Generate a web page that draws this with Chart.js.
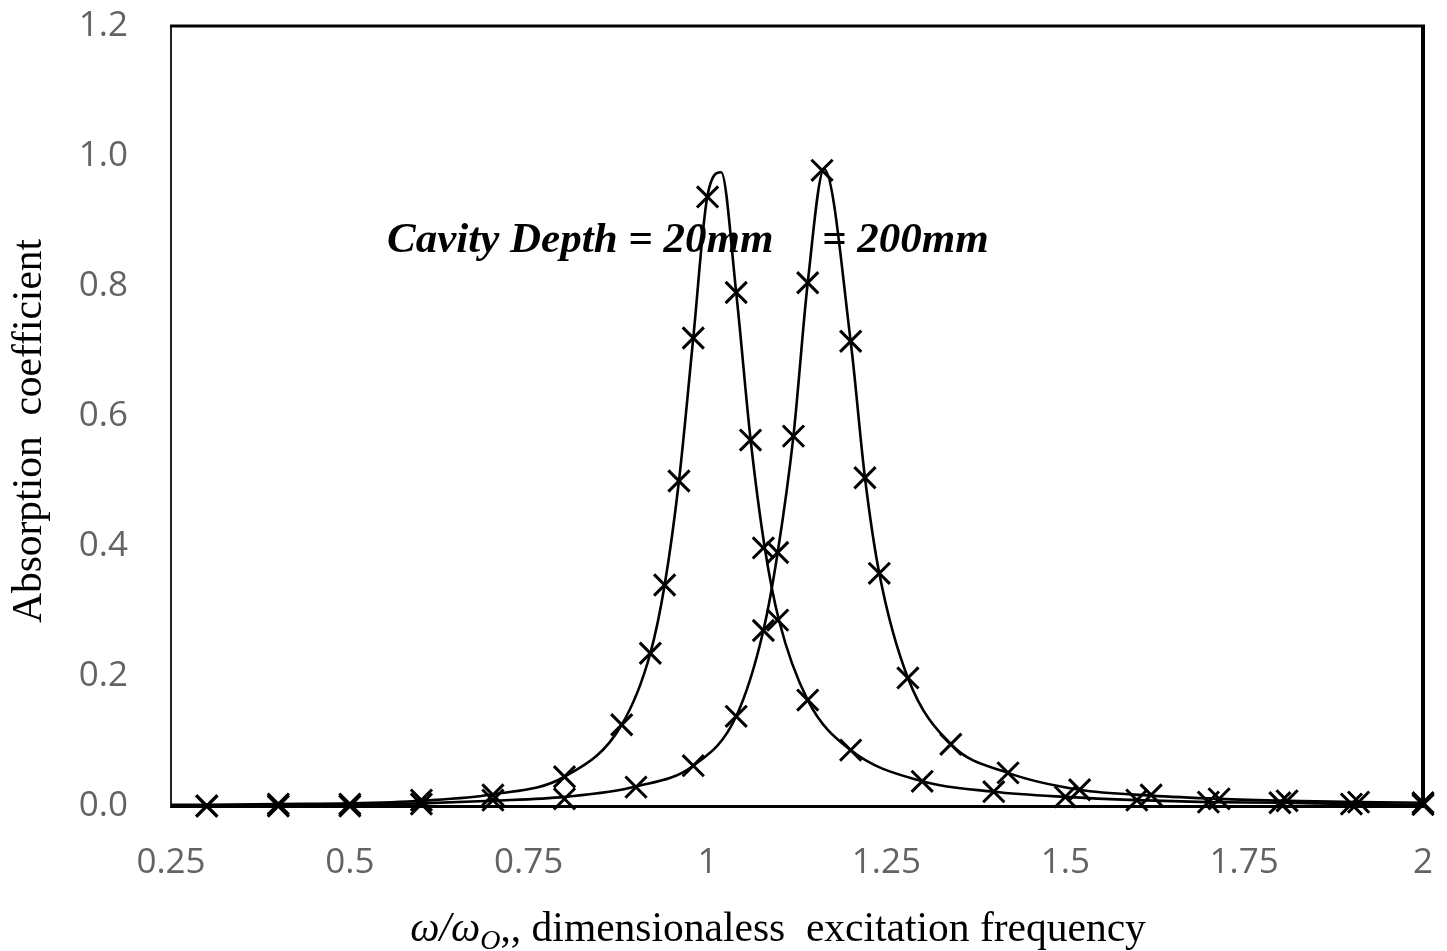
<!DOCTYPE html>
<html><head><meta charset="utf-8">
<script src="https://cdn.jsdelivr.net/npm/chart.js@4"></script>
<style>html,body{margin:0;padding:0;background:#fff}</style>
</head><body>
<canvas id="c" width="1447" height="951"></canvas>
<script>
// ---- data ----
const xTickValues = [0.25, 0.5, 0.75, 1, 1.25, 1.5, 1.75, 2];
const yTickValues = [0, 0.2, 0.4, 0.6, 0.8, 1.0, 1.2];

// Cavity depth 20 mm : smooth curve
const d20CurveX = [0.25, 0.3, 0.4, 0.5, 0.6, 0.7, 0.8, 0.88, 0.92, 0.94, 0.96, 0.98, 1.0, 1.019, 1.04, 1.06, 1.08, 1.10, 1.14, 1.2, 1.3, 1.4, 1.5, 1.6, 1.7, 1.8, 1.9, 2.0];
const d20CurveY = [0.002, 0.002, 0.003, 0.004, 0.008, 0.018, 0.045, 0.125, 0.235, 0.34, 0.50, 0.72, 0.94, 0.975, 0.79, 0.565, 0.397, 0.285, 0.163, 0.086, 0.038, 0.022, 0.014, 0.009, 0.006, 0.005, 0.003, 0.002];
// Cavity depth 20 mm : markers
const d20MarkX = [0.3, 0.4, 0.5, 0.6, 0.7, 0.8, 0.88, 0.92, 0.94, 0.96, 0.98, 1.0, 1.04, 1.06, 1.078, 1.098, 1.14, 1.2, 1.3, 1.4, 1.5, 1.6, 1.7, 1.8, 1.9, 2.0];
const d20MarkY = [0.0, 0.003, 0.003, 0.009, 0.017, 0.045, 0.125, 0.235, 0.34, 0.50, 0.72, 0.937, 0.79, 0.563, 0.397, 0.286, 0.163, 0.086, 0.038, 0.022, 0.014, 0.009, 0.006, 0.005, 0.003, 0.002];

// Cavity depth 200 mm : smooth curve
const d200CurveX = [0.25, 0.3, 0.4, 0.5, 0.6, 0.7, 0.8, 0.9, 0.98, 1.04, 1.078, 1.098, 1.12, 1.14, 1.163, 1.2, 1.22, 1.24, 1.28, 1.34, 1.42, 1.52, 1.62, 1.715, 1.81, 1.91, 2.0];
const d200CurveY = [0.001, 0.001, 0.001, 0.002, 0.004, 0.008, 0.014, 0.03, 0.062, 0.138, 0.27, 0.39, 0.569, 0.805, 0.98, 0.715, 0.505, 0.358, 0.197, 0.095, 0.051, 0.025, 0.016, 0.011, 0.008, 0.006, 0.005];
// Cavity depth 200 mm : markers
const d200MarkX = [0.3, 0.4, 0.5, 0.6, 0.7, 0.8, 0.9, 0.98, 1.04, 1.078, 1.098, 1.12, 1.14, 1.16, 1.2, 1.22, 1.24, 1.28, 1.34, 1.42, 1.52, 1.62, 1.715, 1.81, 1.91, 2.0];
const d200MarkY = [0.0, 0.0, 0.0, 0.003, 0.009, 0.011, 0.029, 0.062, 0.138, 0.27, 0.39, 0.569, 0.805, 0.978, 0.715, 0.505, 0.358, 0.197, 0.095, 0.051, 0.025, 0.017, 0.011, 0.008, 0.006, 0.005];

const annotationTexts = ['Cavity Depth = 20mm', '= 200mm'];
const annotationX = [0.552, 1.16];
const annotationY = [0.852, 0.852];

const xTitleParts = ['\u03c9/\u03c9', 'O', ',, dimensionaless  excitation frequency'];
const yTitleText = 'Absorption  coefficient';

// ---- build ----
const pts = (xs, ys) => xs.map((x, i) => ({x: x, y: ys[i]}));

const lineDs = (xs, ys) => ({
  type: 'line', data: pts(xs, ys), borderColor: '#000', borderWidth: 2.6,
  pointRadius: 0, cubicInterpolationMode: 'monotone', fill: false, clip: false, order: 2
});
const markDs = (xs, ys) => ({
  type: 'scatter', data: pts(xs, ys), showLine: false, pointStyle: 'crossRot',
  pointRadius: 15, borderColor: '#000', backgroundColor: '#000', pointBorderWidth: 3, borderWidth: 3,
  clip: false, order: 1
});

const annotationPlugin = {
  id: 'annot',
  beforeDatasetsDraw(chart) {
    const ctx = chart.ctx, xs = chart.scales.x, ys = chart.scales.y;
    ctx.save();
    ctx.font = 'italic bold 43px "Liberation Serif", "Times New Roman", serif';
    ctx.fillStyle = '#000';
    ctx.textBaseline = 'alphabetic';
    ctx.textAlign = 'left';
    annotationTexts.forEach((t, i) => {
      ctx.fillText(t, xs.getPixelForValue(annotationX[i]), ys.getPixelForValue(annotationY[i]));
    });
    ctx.restore();
  }
};

const framePlugin = {
  id: 'frame',
  afterDraw(chart) {
    const ctx = chart.ctx, a = chart.chartArea;
    ctx.save();
    ctx.strokeStyle = '#000';
    ctx.lineWidth = 3;
    ctx.beginPath(); ctx.moveTo(a.left - 1, a.top); ctx.lineTo(a.right + 2, a.top); ctx.stroke();
    ctx.lineWidth = 4;
    ctx.beginPath(); ctx.moveTo(a.right, a.top); ctx.lineTo(a.right, a.bottom + 1); ctx.stroke();
    // x title with italic omega and subscript
    const f1 = 'italic 41.5px "Liberation Serif", "Times New Roman", serif';
    const f2 = 'italic 28px "Liberation Serif", "Times New Roman", serif';
    const f3 = '41.5px "Liberation Serif", "Times New Roman", serif';
    ctx.fillStyle = '#000';
    ctx.textBaseline = 'alphabetic';
    ctx.textAlign = 'left';
    ctx.font = f1; const w1 = ctx.measureText(xTitleParts[0]).width;
    ctx.font = f2; const w2 = ctx.measureText(xTitleParts[1]).width;
    ctx.font = f3; const w3 = ctx.measureText(xTitleParts[2]).width;
    const cx = (a.left + a.right) / 2 - 19;
    let x = cx - (w1 + w2 + w3) / 2;
    const base = 941;
    ctx.font = f1; ctx.fillText(xTitleParts[0], x, base); x += w1;
    ctx.font = f2; ctx.fillText(xTitleParts[1], x, base + 8); x += w2;
    ctx.font = f3; ctx.fillText(xTitleParts[2], x, base);
    // y title, rotated
    ctx.translate(30, 431);
    ctx.rotate(-Math.PI / 2);
    ctx.textAlign = 'center';
    ctx.textBaseline = 'middle';
    ctx.font = '41.5px "Liberation Serif", "Times New Roman", serif';
    ctx.fillText(yTitleText, 0, 0);
    ctx.restore();
  }
};

const tickFont = {family: '"Open Sans", "Noto Sans", sans-serif', size: 35};

new Chart(document.getElementById('c'), {
  data: {
    datasets: [
      lineDs(d20CurveX, d20CurveY),
      lineDs(d200CurveX, d200CurveY),
      markDs(d20MarkX, d20MarkY),
      markDs(d200MarkX, d200MarkY)
    ]
  },
  options: {
    responsive: false,
    animation: false,
    layout: {padding: {top: 26, right: 24, left: 0, bottom: 0}},
    plugins: {legend: {display: false}, tooltip: {enabled: false}},
    scales: {
      x: {
        type: 'linear', min: 0.25, max: 2,
        afterBuildTicks: s => { s.ticks = xTickValues.map(v => ({value: v})); },
        afterFit: s => { s.height = 145; s.paddingLeft = 0; s.paddingRight = 0; },
        grid: {display: false, drawTicks: false},
        border: {display: true, color: '#000', width: 3},
        ticks: {color: '#636363', font: tickFont, padding: 36, maxRotation: 0,
                callback: v => String(+Number(v).toFixed(2))},
        title: {display: false}
      },
      y: {
        type: 'linear', min: 0, max: 1.2,
        afterBuildTicks: s => { s.ticks = yTickValues.map(v => ({value: v})); },
        afterFit: s => { s.width = 171; s.paddingTop = 0; s.paddingBottom = 0; },
        grid: {display: false, drawTicks: false},
        border: {display: true, color: '#222', width: 2},
        ticks: {color: '#636363', font: tickFont, padding: 43,
                callback: v => Number(v).toFixed(1)},
        title: {display: false}
      }
    }
  },
  plugins: [annotationPlugin, framePlugin]
});
</script>
</body></html>
